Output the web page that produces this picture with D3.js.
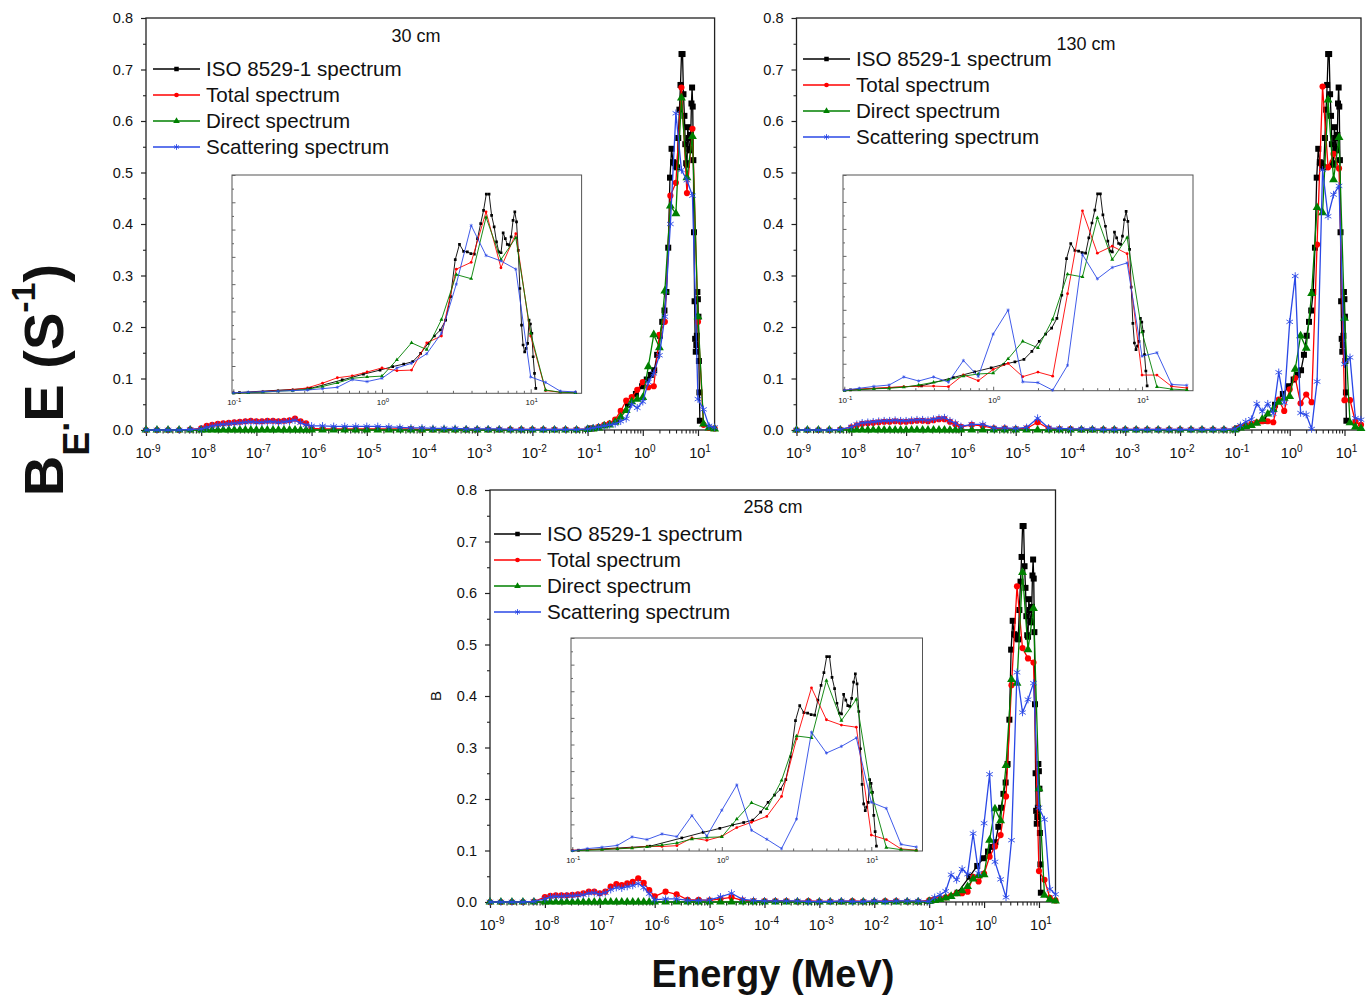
<!DOCTYPE html>
<html>
<head>
<meta charset="utf-8">
<script src="https://cdn.jsdelivr.net/npm/d3@7"></script>
<style>
  body { margin: 0; background: #fff; }
  text { font-family: Arial, "Liberation Sans", sans-serif; fill: #111; }
</style>
</head>
<body>
<svg id="chart" width="1370" height="998"></svg>
<script>
// energy grid of the calculated spectra (MeV)
var gridE = [
  1e-9, 1.58e-9, 2.51e-9, 3.98e-9, 6.31e-9,
  1e-8, 1.26e-8, 1.58e-8, 2e-8, 2.51e-8, 3.16e-8, 3.98e-8, 5.01e-8, 6.31e-8, 7.94e-8,
  1e-7, 1.26e-7, 1.58e-7, 2e-7, 2.51e-7, 3.16e-7, 3.98e-7, 5.01e-7, 6.31e-7, 7.94e-7,
  1e-6, 1.58e-6, 2.51e-6, 3.98e-6, 6.31e-6, 1e-5, 1.58e-5, 2.51e-5, 3.98e-5, 6.31e-5,
  1e-4, 1.58e-4, 2.51e-4, 3.98e-4, 6.31e-4, 1e-3, 1.58e-3, 2.51e-3, 3.98e-3, 6.31e-3,
  1e-2, 1.58e-2, 2.51e-2, 3.98e-2, 6.31e-2,
  0.1, 0.126, 0.158, 0.2, 0.251, 0.316, 0.398, 0.501, 0.631, 0.794,
  1, 1.26, 1.58, 2, 2.51, 3.16, 3.98, 5.01, 6.31, 7.94,
  10, 12.6, 15.8, 20
];

// ISO 8529-1 reference spectrum (same for all panels)
var isoE = [0.11, 0.33, 0.54, 0.75, 0.97, 1.18, 1.40, 1.61, 1.82, 2.04, 2.25, 2.47, 2.68, 2.89, 3.11,
  3.32, 3.54, 3.75, 3.96, 4.18, 4.39, 4.61, 4.82, 5.03, 5.25, 5.46, 5.68, 5.89, 6.11, 6.32,
  6.53, 6.75, 6.96, 7.18, 7.39, 7.61, 7.82, 8.03, 8.25, 8.46, 8.68, 8.89, 9.11, 9.32, 9.54,
  9.75, 9.96, 10.18, 10.39, 10.61, 10.82];
var isoB = [0.003, 0.018, 0.049, 0.07, 0.085, 0.098, 0.107, 0.116, 0.146, 0.183, 0.21, 0.232, 0.268, 0.354, 0.49,
  0.546, 0.52, 0.518, 0.512, 0.51, 0.567, 0.622, 0.67, 0.73, 0.73, 0.652, 0.61, 0.555, 0.518, 0.515,
  0.588, 0.567, 0.546, 0.543, 0.573, 0.634, 0.665, 0.628, 0.524, 0.384, 0.25, 0.177, 0.152, 0.165, 0.183,
  0.268, 0.254, 0.22, 0.134, 0.073, 0.018];

// 30 cm
var total30 = [
  0, 0, 0, 0, 0.001,
  0.003, 0.008, 0.010, 0.012, 0.013, 0.014, 0.015, 0.016, 0.017, 0.018, 0.017, 0.017, 0.018, 0.018, 0.017, 0.018, 0.019, 0.022, 0.017, 0.013,
  0.003, 0.002, 0.002, 0.002, 0.002, 0.002, 0.002, 0.002, 0.002, 0.002, 0.001, 0.001, 0.001, 0.001, 0.001, 0.001, 0.001, 0.001, 0.001, 0.001, 0.001, 0.001, 0.001, 0.001, 0.001,
  0.002, 0.003, 0.006, 0.010, 0.013, 0.020, 0.037, 0.057, 0.064, 0.078, 0.093, 0.083, 0.085, 0.185, 0.21, 0.455, 0.48, 0.665, 0.46, 0.585, 0.21, 0.010, 0.004, 0.003
];
var direct30 = [
  0, 0, 0, 0, 0,
  0, 0, 0, 0, 0, 0, 0, 0, 0, 0, 0, 0, 0, 0, 0, 0, 0, 0, 0, 0,
  0, 0, 0, 0, 0, 0, 0, 0, 0, 0, 0, 0, 0, 0, 0, 0, 0, 0, 0, 0, 0, 0, 0, 0, 0,
  0.001, 0.002, 0.004, 0.008, 0.010, 0.015, 0.025, 0.038, 0.055, 0.060, 0.063, 0.123, 0.185, 0.160, 0.270, 0.435, 0.420, 0.645, 0.490, 0.570, 0.220, 0.012, 0.004, 0.002
];
var scatter30 = [
  0, 0, 0, 0, 0.001,
  0.002, 0.005, 0.008, 0.010, 0.011, 0.012, 0.013, 0.014, 0.015, 0.016, 0.015, 0.015, 0.016, 0.016, 0.015, 0.016, 0.017, 0.019, 0.014, 0.010,
  0.008, 0.008, 0.007, 0.007, 0.007, 0.007, 0.007, 0.006, 0.005, 0.004, 0.004, 0.003, 0.003, 0.003, 0.002, 0.002, 0.002, 0.002, 0.001, 0.001, 0.001, 0.001, 0.001, 0.001, 0.001,
  0.002, 0.004, 0.006, 0.008, 0.010, 0.012, 0.017, 0.022, 0.050, 0.043, 0.055, 0.093, 0.110, 0.145, 0.220, 0.400, 0.615, 0.505, 0.485, 0.455, 0.060, 0.040, 0.008, 0.005
];

// 130 cm
var total130 = [
  0, 0, 0, 0, 0.001,
  0.005, 0.009, 0.012, 0.013, 0.014, 0.015, 0.016, 0.016, 0.017, 0.016, 0.016, 0.017, 0.018, 0.018, 0.017, 0.019, 0.021, 0.021, 0.016, 0.011,
  0.006, 0.010, 0.008, 0.003, 0.003, 0.002, 0.003, 0.015, 0.003, 0.002, 0.002, 0.001, 0.001, 0.001, 0.001, 0.001, 0.001, 0.001, 0.001, 0.001, 0.001, 0.001, 0.001, 0.001, 0.001,
  0.002, 0.006, 0.009, 0.012, 0.015, 0.017, 0.017, 0.015, 0.059, 0.037, 0.079, 0.101, 0.052, 0.069, 0.054, 0.360, 0.667, 0.510, 0.536, 0.508, 0.058, 0.058, 0.016, 0.010
];
var direct130 = [
  0, 0, 0, 0, 0,
  0, 0, 0, 0, 0, 0, 0, 0, 0, 0, 0, 0, 0, 0, 0, 0, 0, 0, 0, 0,
  0, 0, 0, 0, 0, 0, 0, 0, 0, 0, 0, 0, 0, 0, 0, 0, 0, 0, 0, 0, 0, 0, 0, 0, 0,
  0.000, 0.004, 0.007, 0.009, 0.013, 0.021, 0.031, 0.040, 0.054, 0.062, 0.065, 0.118, 0.183, 0.159, 0.265, 0.432, 0.422, 0.641, 0.486, 0.568, 0.217, 0.014, 0.006, 0.003
];
var scatter130 = [
  0, 0, 0, 0, 0.001,
  0.006, 0.011, 0.014, 0.015, 0.016, 0.017, 0.018, 0.018, 0.019, 0.018, 0.018, 0.019, 0.020, 0.020, 0.019, 0.021, 0.023, 0.024, 0.018, 0.013,
  0.007, 0.011, 0.011, 0.004, 0.004, 0.003, 0.005, 0.023, 0.004, 0.003, 0.002, 0.002, 0.002, 0.001, 0.001, 0.001, 0.001, 0.001, 0.001, 0.001, 0.001, 0.001, 0.001, 0.001, 0.001,
  0.002, 0.009, 0.016, 0.021, 0.051, 0.036, 0.051, 0.032, 0.112, 0.053, 0.210, 0.299, 0.033, 0.030, 0.002, 0.094, 0.505, 0.415, 0.457, 0.474, 0.128, 0.141, 0.023, 0.020
];

// 258 cm
var total258 = [
  0, 0, 0, 0, 0.001,
  0.0095, 0.012, 0.013, 0.013, 0.013, 0.014, 0.015, 0.017, 0.020, 0.020, 0.017, 0.020, 0.030, 0.035, 0.033, 0.036, 0.039, 0.046, 0.037, 0.023,
  0.011, 0.020, 0.015, 0.004, 0.004, 0.003, 0.006, 0.009, 0.003, 0.002, 0.002, 0.002, 0.002, 0.001, 0.002, 0.001, 0.001, 0.001, 0.002, 0.001, 0.001, 0.002, 0.002, 0.001, 0.001,
  0.003, 0.005, 0.006, 0.009, 0.012, 0.017, 0.017, 0.020, 0.049, 0.040, 0.055, 0.088, 0.108, 0.130, 0.205, 0.421, 0.613, 0.493, 0.473, 0.465, 0.060, 0.043, 0.008, 0.003
];
var direct258 = [
  0, 0, 0, 0, 0,
  0, 0, 0, 0, 0, 0, 0, 0, 0, 0, 0, 0, 0, 0, 0, 0, 0, 0, 0, 0,
  0, 0, 0, 0, 0, 0, 0, 0, 0, 0, 0, 0, 0, 0, 0, 0, 0, 0, 0, 0, 0, 0, 0, 0, 0,
  0.001, 0.003, 0.005, 0.008, 0.011, 0.016, 0.022, 0.030, 0.045, 0.051, 0.053, 0.120, 0.181, 0.158, 0.265, 0.432, 0.425, 0.640, 0.490, 0.570, 0.220, 0.013, 0.005, 0.002
];
var scatter258 = [
  0, 0, 0, 0, 0.001,
  0.006, 0.010, 0.011, 0.011, 0.012, 0.012, 0.013, 0.014, 0.017, 0.018, 0.015, 0.018, 0.024, 0.028, 0.027, 0.030, 0.032, 0.036, 0.028, 0.016,
  0.004, 0.006, 0.006, 0.003, 0.003, 0.004, 0.010, 0.017, 0.005, 0.003, 0.002, 0.002, 0.002, 0.002, 0.001, 0.001, 0.001, 0.002, 0.001, 0.001, 0.002, 0.001, 0.002, 0.002, 0.002,
  0.001, 0.009, 0.014, 0.021, 0.053, 0.043, 0.064, 0.054, 0.133, 0.056, 0.153, 0.248, 0.078, 0.044, 0.009, 0.120, 0.446, 0.368, 0.393, 0.425, 0.183, 0.160, 0.025, 0.015
];

var seriesNames = ["ISO 8529-1 spectrum", "Total spectrum", "Direct spectrum", "Scattering spectrum"];
var seriesColors = ["#000000", "#ff0000", "#008000", "#2a48e6"];
var seriesSymbols = ["square", "circle", "triangle", "star"];

var yTicks = [0, 0.1, 0.2, 0.3, 0.4, 0.5, 0.6, 0.7, 0.8];
var xDecades = [1e-9, 1e-8, 1e-7, 1e-6, 1e-5, 1e-4, 1e-3, 1e-2, 1e-1, 1, 10];
var xExps = ["-9", "-8", "-7", "-6", "-5", "-4", "-3", "-2", "-1", "0", "1"];
var insetDecades = [0.1, 1, 10];
var insetExps = ["-1", "0", "1"];

var panels = [
  {title: "30 cm", total: total30, direct: direct30, scatter: scatter30,
   box: {l: 146, r: 714.6, t: 18, b: 430}, titleAt: [416, 42], legendAt: [153, 69],
   inset: {l: 232, r: 581.6, t: 175, b: 393.3}},
  {title: "130 cm", total: total130, direct: direct130, scatter: scatter130,
   box: {l: 796.5, r: 1361, t: 18, b: 430}, titleAt: [1086, 50], legendAt: [803, 59],
   inset: {l: 843, r: 1193, t: 175, b: 390.7}},
  {title: "258 cm", total: total258, direct: direct258, scatter: scatter258,
   box: {l: 490, r: 1055.5, t: 490, b: 902}, titleAt: [773, 513], legendAt: [494, 534],
   inset: {l: 571, r: 922.5, t: 638, b: 851}}
];

var svg = d3.select("#chart");

function markerPath(type, k) {
  if (type === "square") return d3.symbol(d3.symbolSquare, 36 * k * k)();
  if (type === "circle") return d3.symbol(d3.symbolCircle, 30 * k * k)();
  if (type === "triangle") return d3.symbol(d3.symbolTriangle, 34 * k * k)();
  // asterisk
  var r = 3.8 * k, p = d3.path();
  [90, 30, 150].forEach(function(a) {
    var dx = r * Math.cos(a * Math.PI / 180), dy = r * Math.sin(a * Math.PI / 180);
    p.moveTo(-dx, -dy); p.lineTo(dx, dy);
  });
  return p.toString();
}

function drawSeries(g, pts, x, y, idx, k, lw) {
  var color = seriesColors[idx], type = seriesSymbols[idx];
  g.append("path").datum(pts)
    .attr("fill", "none").attr("stroke", color).attr("stroke-width", lw)
    .attr("stroke-linejoin", "round")
    .attr("d", d3.line().x(function(d) { return x(d[0]); }).y(function(d) { return y(d[1]); }));
  g.selectAll(null).data(pts).enter().append("path")
    .attr("transform", function(d) { return "translate(" + x(d[0]) + "," + y(d[1]) + ")"; })
    .attr("d", markerPath(type, k))
    .attr("fill", type === "star" ? "none" : color)
    .attr("stroke", type === "star" ? color : "none")
    .attr("stroke-width", type === "star" ? 0.9 * Math.max(k, 0.7) : 0);
}

function minorLogTicks(lo, hi, decs) {
  var out = [];
  decs.forEach(function(d) {
    for (var m = 2; m <= 9; m++) { var v = d * m; if (v > lo && v < hi) out.push(v); }
  });
  return out;
}

function powLabel(sel, exp, size, supSize, rise) {
  sel.append("tspan").attr("font-size", size).text("10");
  sel.append("tspan").attr("font-size", supSize).attr("dy", -rise).text(exp);
}

panels.forEach(function(p) {
  var b = p.box;
  var g = svg.append("g");
  var x = d3.scaleLog().domain([1e-9, 20]).range([b.l, b.r]);
  var y = d3.scaleLinear().domain([0, 0.8]).range([b.b, b.t]);

  // x axis, major + minor ticks
  g.append("g").attr("transform", "translate(0," + b.b + ")")
    .call(d3.axisBottom(x).tickValues(xDecades).tickSize(6).tickSizeOuter(0).tickFormat(""))
    .call(function(s) { s.select(".domain").remove(); s.selectAll("line").attr("stroke", "#222").attr("stroke-width", 1.2); });
  g.append("g").attr("transform", "translate(0," + b.b + ")")
    .call(d3.axisBottom(x).tickValues(minorLogTicks(1e-9, 20, xDecades)).tickSize(3.5).tickSizeOuter(0).tickFormat(""))
    .call(function(s) { s.select(".domain").remove(); s.selectAll("line").attr("stroke", "#222").attr("stroke-width", 1.1); });
  xDecades.forEach(function(d, i) {
    var t = g.append("text").attr("x", x(d) + 2).attr("y", b.b + 28).attr("text-anchor", "middle");
    powLabel(t, xExps[i], 14.5, 10, 6);
  });

  // y axis
  g.append("g").attr("transform", "translate(" + b.l + ",0)")
    .call(d3.axisLeft(y).tickValues(yTicks).tickSize(5).tickSizeOuter(0).tickFormat(d3.format(".1f")))
    .call(function(s) {
      s.select(".domain").remove();
      s.selectAll("line").attr("stroke", "#222").attr("stroke-width", 1.2);
      s.selectAll("text").attr("x", -13).attr("font-size", 14.5).attr("font-family", "Arial, 'Liberation Sans', sans-serif").attr("fill", "#111");
    });
  g.append("g").attr("transform", "translate(" + b.l + ",0)")
    .call(d3.axisLeft(y).tickValues(yTicks.slice(0, 8).map(function(v) { return v + 0.05; })).tickSize(3).tickSizeOuter(0).tickFormat(""))
    .call(function(s) { s.select(".domain").remove(); s.selectAll("line").attr("stroke", "#222").attr("stroke-width", 1.1); });

  // frame
  g.append("rect").attr("x", b.l).attr("y", b.t).attr("width", b.r - b.l).attr("height", b.b - b.t)
    .attr("fill", "none").attr("stroke", "#222").attr("stroke-width", 1.3);

  // inset
  var ins = p.inset;
  var ix = d3.scaleLog().domain([0.098, 22]).range([ins.l, ins.r]);
  var iy = d3.scaleLinear().domain([0, 0.8]).range([ins.b, ins.t]);
  var ig = g.append("g");
  ig.append("rect").attr("x", ins.l).attr("y", ins.t).attr("width", ins.r - ins.l).attr("height", ins.b - ins.t)
    .attr("fill", "#fff").attr("stroke", "#555").attr("stroke-width", 1);
  ig.append("g").attr("transform", "translate(0," + ins.b + ")")
    .call(d3.axisBottom(ix).tickValues(insetDecades).tickSize(-4).tickSizeOuter(0).tickFormat(""))
    .call(function(s) { s.select(".domain").remove(); s.selectAll("line").attr("stroke", "#666"); });
  ig.append("g").attr("transform", "translate(0," + ins.b + ")")
    .call(d3.axisBottom(ix).tickValues(minorLogTicks(0.098, 22, [0.01, 0.1, 1, 10])).tickSize(-2.5).tickSizeOuter(0).tickFormat(""))
    .call(function(s) { s.select(".domain").remove(); s.selectAll("line").attr("stroke", "#666"); });
  ig.append("g").attr("transform", "translate(" + ins.l + ",0)")
    .call(d3.axisLeft(iy).tickValues(yTicks).tickSize(-3.5).tickSizeOuter(0).tickFormat(""))
    .call(function(s) { s.select(".domain").remove(); s.selectAll("line").attr("stroke", "#666"); });
  ig.append("g").attr("transform", "translate(" + ins.l + ",0)")
    .call(d3.axisLeft(iy).tickValues(yTicks.slice(0, 8).map(function(v) { return v + 0.05; })).tickSize(-2).tickSizeOuter(0).tickFormat(""))
    .call(function(s) { s.select(".domain").remove(); s.selectAll("line").attr("stroke", "#666"); });
  insetDecades.forEach(function(d, i) {
    var t = ig.append("text").attr("x", ix(d) + 1).attr("y", ins.b + 12).attr("text-anchor", "middle").attr("fill", "#333");
    powLabel(t, insetExps[i], 8, 6, 3);
  });

  var clipId = "clip" + Math.round(ins.l);
  ig.append("clipPath").attr("id", clipId).append("rect")
    .attr("x", ins.l).attr("y", ins.t).attr("width", ins.r - ins.l).attr("height", ins.b - ins.t + 2);

  var isoPts = d3.zip(isoE, isoB);
  var sets = [isoPts, d3.zip(gridE, p.total), d3.zip(gridE, p.direct), d3.zip(gridE, p.scatter)];

  var ic = ig.append("g").attr("clip-path", "url(#" + clipId + ")");
  sets.forEach(function(pts, i) {
    var sub = pts.filter(function(d) { return d[0] >= 0.098; });
    drawSeries(ic, sub, ix, iy, i, 0.45, 0.9);
  });

  // main series
  sets.forEach(function(pts, i) {
    drawSeries(g, pts, x, y, i, 1, 1.3);
  });

  // title
  g.append("text").attr("x", p.titleAt[0]).attr("y", p.titleAt[1]).attr("text-anchor", "middle")
    .attr("font-size", 18).text(p.title);

  // legend
  seriesNames.forEach(function(name, i) {
    var lx = p.legendAt[0], ly = p.legendAt[1] + i * 26;
    g.append("line").attr("x1", lx).attr("x2", lx + 47).attr("y1", ly).attr("y2", ly)
      .attr("stroke", seriesColors[i]).attr("stroke-width", 1.3);
    var type = seriesSymbols[i];
    g.append("path").attr("transform", "translate(" + (lx + 23.5) + "," + ly + ")")
      .attr("d", markerPath(type, 0.75))
      .attr("fill", type === "star" ? "none" : seriesColors[i])
      .attr("stroke", type === "star" ? seriesColors[i] : "none")
      .attr("stroke-width", 0.9);
    g.append("text").attr("x", lx + 53).attr("y", ly).attr("dy", "0.36em")
      .attr("font-size", 20.6).text(name);
  });
});

// small axis letter on the lower panel
svg.append("text").attr("transform", "translate(441,696) rotate(-90)").attr("text-anchor", "middle")
  .attr("font-size", 15).text("B");

// shared axis titles
var yl = svg.append("text").attr("transform", "translate(63,380) rotate(-90)")
  .attr("text-anchor", "middle").attr("font-weight", "bold").attr("font-size", 56).attr("fill", "#000");
yl.append("tspan").text("B");
yl.append("tspan").attr("font-size", 36).attr("dy", 26).text("E");
yl.append("tspan").attr("font-size", 36).attr("dy", -20).text(".");
yl.append("tspan").attr("dy", -6).text("E (S");
yl.append("tspan").attr("font-size", 34).attr("dy", -28).text("-1");
yl.append("tspan").attr("dy", 28).text(")");

svg.append("text").attr("x", 773).attr("y", 987).attr("text-anchor", "middle")
  .attr("font-weight", "bold").attr("font-size", 38).attr("fill", "#000").text("Energy (MeV)");
</script>
</body>
</html>
